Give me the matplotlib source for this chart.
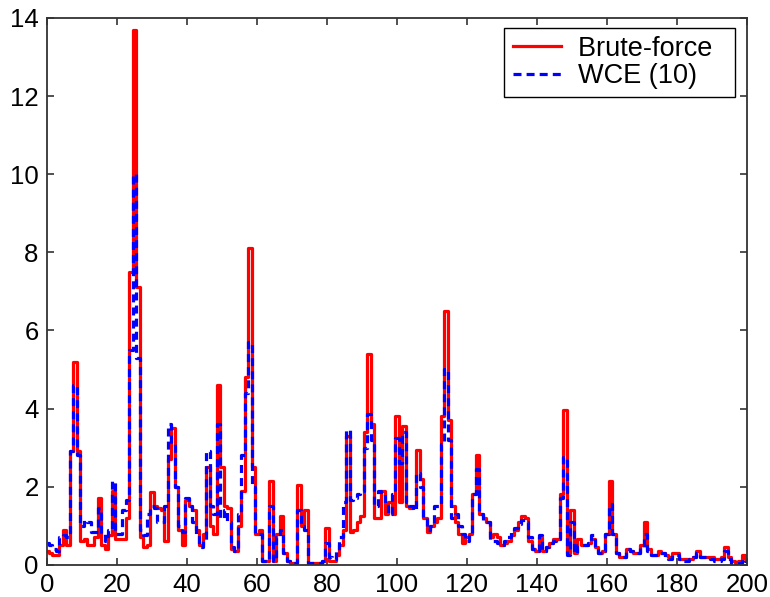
import numpy as np
import matplotlib.pyplot as plt

plt.rcParams['font.family'] = ['Liberation Sans', 'DejaVu Sans']

# frame index 0..200
x = np.arange(0, 201)

brute_force = [
    0.35, 0.3, 0.25, 0.25, 0.5, 0.9, 0.5, 2.9, 5.2, 2.9,
    0.6, 0.65, 0.5, 0.5, 0.7, 1.7, 0.5, 0.4, 0.75, 1.9,
    0.65, 0.65, 0.65, 1.2, 7.5, 13.7, 7.1, 0.7, 0.45, 0.5,
    1.85, 1.5, 1.45, 1.4, 0.6, 2.7, 3.5, 2.0, 0.9, 0.5,
    1.65, 1.5, 1.4, 0.9, 0.5, 0.8, 2.5, 1.0, 0.8, 4.6,
    2.5, 1.5, 1.45, 0.4, 0.35, 1.0, 1.9, 4.8, 8.1, 2.5,
    0.8, 0.9, 0.1, 0.1, 2.15, 0.1, 0.8, 1.25, 0.3, 0.1,
    0.05, 0.05, 2.05, 1.0, 1.4, 0.05, 0.05, 0.05, 0.05, 0.1,
    0.95, 0.1, 0.1, 0.25, 0.5, 0.9, 3.3, 0.85, 0.9, 1.1,
    1.25, 3.4, 5.4, 3.6, 1.2, 1.2, 1.9, 1.3, 1.6, 1.3,
    3.8, 1.6, 3.55, 1.5, 1.45, 1.5, 2.95, 2.2, 1.2, 0.85,
    1.0, 1.1, 1.2, 3.8, 6.5, 3.7, 1.5, 1.1, 0.8, 0.55,
    0.7, 0.8, 1.8, 2.8, 1.3, 1.2, 1.1, 0.7, 0.8, 0.7,
    0.5, 0.55, 0.6, 0.75, 0.9, 1.1, 1.25, 1.2, 0.6, 0.4,
    0.35, 0.7, 0.35, 0.45, 0.55, 0.65, 0.65, 1.8, 3.95, 0.3,
    1.4, 0.3, 0.65, 0.5, 0.5, 0.55, 0.65, 0.45, 0.3, 0.35,
    0.8, 2.15, 0.8, 0.3, 0.2, 0.2, 0.4, 0.35, 0.3, 0.3,
    0.5, 1.1, 0.4, 0.25, 0.25, 0.35, 0.3, 0.25, 0.2, 0.3,
    0.3, 0.15, 0.15, 0.15, 0.15, 0.2, 0.35, 0.2, 0.2, 0.2,
    0.2, 0.15, 0.15, 0.2, 0.45, 0.2, 0.1, 0.05, 0.1, 0.25,
    0.15,
]

wce_10 = [
    0.55, 0.5, 0.4, 0.35, 0.7, 0.75, 0.7, 2.9, 4.6, 2.8,
    1.0, 1.15, 1.1, 0.85, 0.85, 1.45, 0.8, 0.6, 0.9, 2.15,
    0.8, 0.8, 1.4, 1.65, 5.5, 10.0, 5.3, 0.9, 0.75, 1.3,
    1.5, 1.45, 1.1, 1.1, 1.5, 3.6, 3.1, 2.0, 1.0, 0.85,
    1.7, 1.5, 1.1, 0.8, 0.45, 0.6, 2.9, 1.5, 1.3, 3.6,
    1.2, 1.4, 1.1, 0.45, 0.35, 1.3, 2.8, 4.4, 5.7, 2.0,
    0.8, 0.8, 0.1, 0.1, 1.5, 0.1, 0.7, 0.9, 0.3, 0.1,
    0.05, 0.05, 1.4, 1.0, 0.9, 0.05, 0.05, 0.05, 0.05, 0.1,
    0.55, 0.2, 0.15, 0.35, 0.7, 1.6, 3.45, 1.65, 1.7, 1.8,
    1.9, 3.0, 3.85, 3.2, 1.5, 1.9, 1.8, 1.5, 1.3, 1.8,
    3.25, 2.6, 3.4, 1.6, 1.5, 1.4, 2.35, 2.0, 1.2, 0.9,
    1.0, 1.5, 1.5, 3.1, 5.0, 3.2, 1.2, 1.3, 1.0, 0.8,
    0.6, 0.8, 1.8, 2.45, 1.3, 1.15, 1.1, 0.6, 0.6, 0.55,
    0.5, 0.6, 0.7, 0.85, 0.95, 1.05, 1.15, 1.1, 0.7, 0.4,
    0.35, 0.75, 0.35, 0.45, 0.55, 0.6, 0.65, 1.7, 2.75, 0.25,
    1.1, 0.3, 0.5, 0.5, 0.5, 0.55, 0.75, 0.45, 0.3, 0.35,
    0.8, 1.55, 0.8, 0.3, 0.2, 0.2, 0.4, 0.35, 0.3, 0.3,
    0.45, 0.8, 0.35, 0.25, 0.25, 0.3, 0.3, 0.2, 0.15, 0.25,
    0.25, 0.15, 0.1, 0.1, 0.15, 0.2, 0.3, 0.2, 0.2, 0.2,
    0.15, 0.1, 0.1, 0.15, 0.35, 0.15, 0.05, 0.05, 0.05, 0.15,
    0.1,
]

fig = plt.figure(figsize=(7.7, 5.97), dpi=100)
ax = fig.add_axes([0.061, 0.054, 0.909, 0.916])

ax.plot(x, brute_force, color='red', linewidth=2.3, drawstyle='steps-mid',
        label='Brute-force  ')
ax.plot(x, wce_10, color='blue', linewidth=2.3, linestyle=(0, (2.5, 1.6)),
        drawstyle='steps-mid', label='WCE (10)')

ax.set_xlim(0, 200)
ax.set_ylim(0, 14)
ax.set_xticks(np.arange(0, 201, 20))
ax.set_yticks(np.arange(0, 15, 2))
ax.tick_params(direction='in', top=True, right=True, length=5, width=1.2,
               labelsize=18.5, pad=6, colors='#333333', labelcolor='black')
for s in ax.spines.values():
    s.set_linewidth(1.3)
    s.set_color('#333333')

leg = ax.legend(loc='upper right', fontsize=19.5, fancybox=False, framealpha=1,
                edgecolor='black', handlelength=1.8, handletextpad=0.6,
                borderpad=0.3, labelspacing=0.05, borderaxespad=0,
                bbox_to_anchor=(0.983, 0.982))
leg.get_frame().set_linewidth(1.0)

plt.savefig('out.png', dpi=100)
